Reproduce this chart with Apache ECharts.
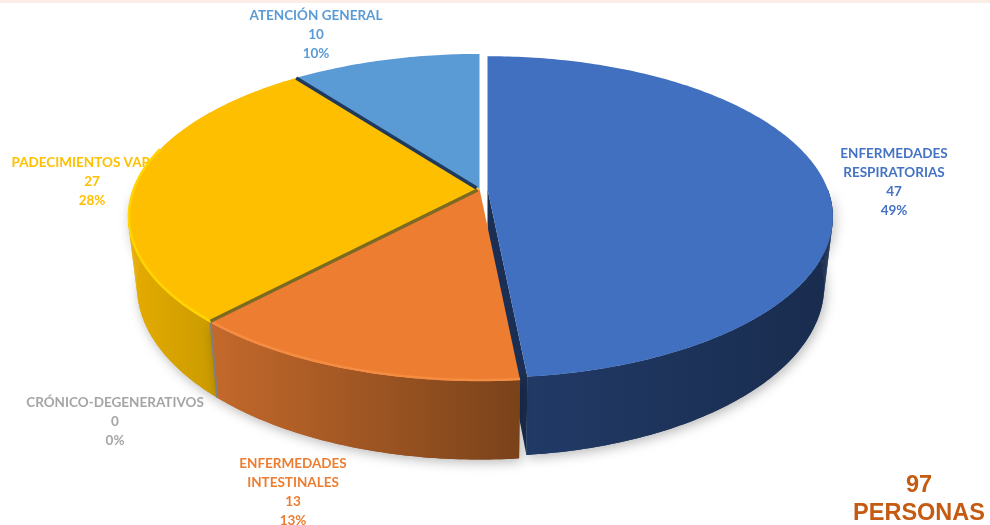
<!DOCTYPE html>
<html>
<head>
<meta charset="utf-8">
<style>html,body{margin:0;padding:0;background:#fff}#c{width:990px;height:525px}</style>
<script src="https://cdn.jsdelivr.net/npm/echarts@6/dist/echarts.min.js"></script>
</head>
<body>
<div id="c"></div>
<script>
const categories = ['ENFERMEDADES\nRESPIRATORIAS', 'ENFERMEDADES\nINTESTINALES', 'CRÓNICO-DEGENERATIVOS', 'PADECIMIENTOS VARIOS', 'ATENCIÓN GENERAL'];
const values = [47, 13, 0, 27, 10];
const percents = ['49%', '13%', '0%', '28%', '10%'];
const totalLabel = '97\nPERSONAS';

const topColors = ['#4170c0', '#ed7d31', '#a5a5a5', '#fdbf00', '#5b9bd5'];
const labelColors = ['#4472c4', '#ed7d31', '#a5a5a5', '#ffc000', '#5b9bd5'];
const sideLeft = ['#213a66', '#c4692b', '#7f7f7f', '#e6ac00', '#3a6ea0'];
const sideRight = ['#192c4e', '#7a421a', '#7f7f7f', '#c99a00', '#3a6ea0'];
const rimColors = [null, '#f48c42', null, '#ffd400', null];
const labelX = [894, 293, 115, 92, 316];
const labelY = [153, 463, 402, 162, 15];
const explodeX = [8, 0, 0, 0, 0];
const sliceScale = [0.983, 1, 1, 1, 1];
const layer = [6, 10, 4, 2, 1];

const CX = 479.5, CY = 189, R = 346, K = 0.174, C = 158.6, DEPTH = 67, SX = 0.975, SY = 1.06;
const total = values.reduce((a, b) => a + b, 0);

function rimTop(a, dx, sc) {
  const s = -Math.cos(a), d = 1 - K * s;
  return [CX + dx + sc * R * Math.sin(a) / d, CY + sc * C * s / d];
}
function rimBottom(a, dx, sc) {
  const s = -Math.cos(a), d = 1 - K * s;
  return [CX + dx + sc * SX * R * Math.sin(a) / d, CY + sc * SY * C * s / d + DEPTH];
}
function arc(fn, a0, a1, dx, sc) {
  const pts = [], n = Math.max(2, Math.ceil((a1 - a0) / 0.015));
  for (let i = 0; i <= n; i++) pts.push(fn(a0 + (a1 - a0) * i / n, dx, sc));
  return pts;
}
function renderSlice(params, api) {
  const i = params.dataIndex, v = api.value(0);
  let before = 0;
  for (let j = 0; j < i; j++) before += values[j];
  const a0 = before / total * 2 * Math.PI, a1 = (before + v) / total * 2 * Math.PI;
  const dx = explodeX[i], z = layer[i], sc = sliceScale[i];
  const apex = [CX + dx, CY], apexB = [CX + dx, CY + DEPTH];
  const kids = [];
  kids.push({
    type: 'text', z2: 0,
    style: {
      text: categories[i] + '\n' + v + '\n' + percents[i],
      x: labelX[i], y: labelY[i] - 9,
      fill: labelColors[i], font: 'bold 13.5px Lato', align: 'center', verticalAlign: 'top', lineHeight: 19
    }
  });
  if (v === 0) {
    const t = rimTop(a0, dx, sc);
    kids.push({ type: 'polyline', z2: 30, shape: { points: [t, rimBottom(a0, dx, sc)] }, style: { stroke: '#7f7f7f', lineWidth: 2, fill: null } });
    kids.push({ type: 'polyline', z2: 30, shape: { points: [[apex[0] - 2, apex[1] + 1], [t[0], t[1] - 1.5]] }, style: { stroke: '#7d6a22', lineWidth: 3.5, fill: null } });
    return { type: 'group', children: kids };
  }
  const shadow = { shadowBlur: 12, shadowColor: 'rgba(0,0,0,0.28)', shadowOffsetX: 2, shadowOffsetY: 3 };
  const topArc = arc(rimTop, a0, a1, dx, sc);
  if (i === 0) {
    kids.push({ type: 'polygon', z2: z - 1, shape: { points: [apex, rimTop(a1, dx, sc), rimBottom(a1, dx, sc), apexB] }, style: { fill: '#1b2f54' } });
  }
  const sa0 = Math.max(a0, Math.PI / 2), sa1 = Math.min(a1, 3 * Math.PI / 2);
  if (i !== 4 && sa1 > sa0) {
    const st = arc(rimTop, sa0, sa1, dx, sc), sb = arc(rimBottom, sa0, sa1, dx, sc);
    const xs = st.concat(sb).map(p => p[0]);
    const grad = {
      type: 'linear', global: true,
      x: Math.min.apply(null, xs), y: 0, x2: Math.max.apply(null, xs), y2: 0,
      colorStops: [{ offset: 0, color: sideLeft[i] }, { offset: 1, color: sideRight[i] }]
    };
    kids.push({
      type: 'polygon', z2: z,
      shape: { points: st.concat(sb.slice().reverse()) },
      style: Object.assign({ fill: grad }, shadow)
    });
    for (let k = 0; k + 1 < st.length; k++) {
      kids.push({ type: 'polygon', z2: z, shape: { points: [st[k], st[k + 1], sb[k + 1], sb[k]] }, style: { fill: grad } });
    }
  }
  kids.push({ type: 'polygon', z2: z + 1, shape: { points: [apex].concat(topArc) }, style: { fill: topColors[i] } });
  if (rimColors[i]) {
    const rs = i === 3 ? arc(rimTop, a0, a0 + (a1 - a0) * 0.62, dx, sc) : topArc;
    kids.push({ type: 'polyline', z2: z + 2, shape: { points: rs.map(p => [p[0] + (p[0] < CX ? 0.8 : 0), p[1] - 1]) }, style: { stroke: rimColors[i], lineWidth: 2.5, fill: null } });
  }
  if (i === 4) {
    kids.push({ type: 'polyline', z2: z + 20, shape: { points: [[apex[0] - 3, apex[1] - 1], rimTop(a0, dx, sc)] }, style: { stroke: '#1f3a5c', lineWidth: 3.5, fill: null } });
  }
  return { type: 'group', children: kids };
}

const chart = echarts.init(document.getElementById('c'), null, { renderer: 'canvas' });
chart.setOption({
  animation: false,
  backgroundColor: '#ffffff',
  graphic: [
    { type: 'rect', shape: { x: 0, y: 0, width: 990, height: 3 }, style: { fill: '#fbeee7' }, z: 0 },
    { type: 'text', z: 5, style: { text: totalLabel, x: 919, y: 472, fill: '#c55a11', font: 'bold 23.5px "Liberation Sans"', align: 'center', lineHeight: 28 } }
  ],
  series: [{
    type: 'custom',
    coordinateSystem: 'none',
    renderItem: renderSlice,
    data: values.map(v => [v])
  }]
});
</script>
</body>
</html>
